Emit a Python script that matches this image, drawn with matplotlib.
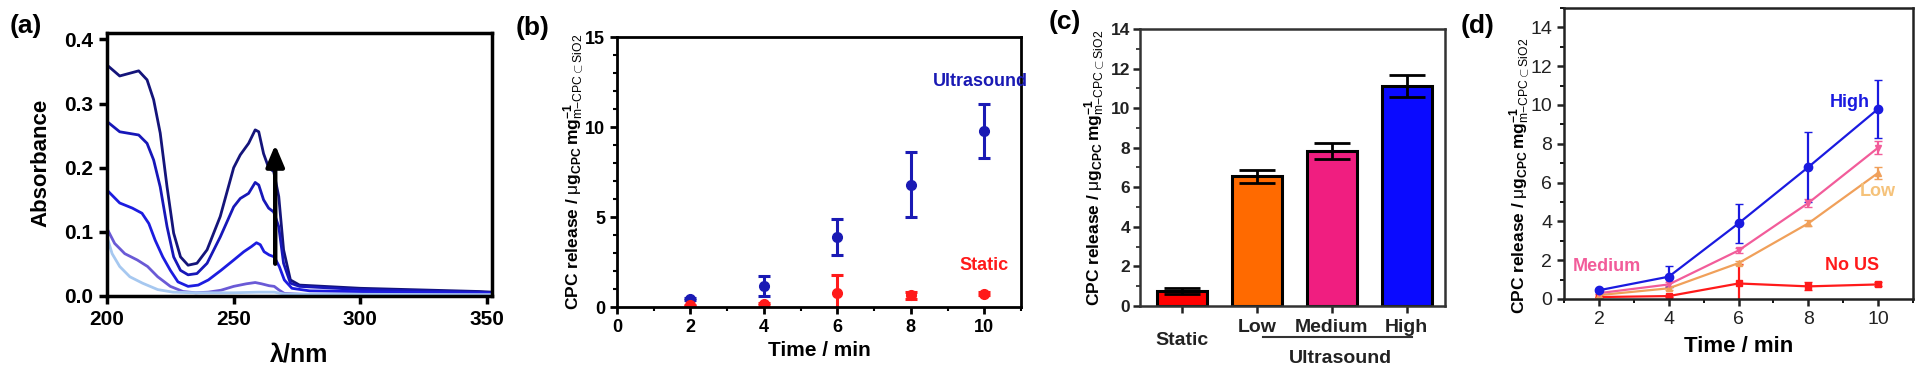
import numpy as np
import matplotlib
matplotlib.use("Agg")
import matplotlib.pyplot as plt
from matplotlib.ticker import MultipleLocator
import matplotlib.transforms as mtransforms

plt.rcParams['font.family'] = ['Liberation Sans', 'DejaVu Sans']
plt.rcParams['mathtext.fontset'] = 'custom'
plt.rcParams['mathtext.rm'] = 'Liberation Sans'
plt.rcParams['mathtext.bf'] = 'Liberation Sans:bold'
plt.rcParams['mathtext.it'] = 'Liberation Sans:italic'

# ---- (a) UV-vis spectra ----
wl1 = [200, 205, 212.5, 215.8, 218.4, 221, 223.7, 226.3, 229, 232, 235.5, 239.5, 244.7, 250,
       252.6, 255.9, 258.5, 259.9, 261.8, 263.8, 265.8, 267.8, 269.7, 272.4, 276, 300, 347, 352]
abs1 = [0.36, 0.343, 0.351, 0.337, 0.306, 0.254, 0.17, 0.098, 0.061, 0.048, 0.051, 0.072, 0.124, 0.20,
        0.22, 0.238, 0.259, 0.256, 0.222, 0.20, 0.194, 0.155, 0.072, 0.025, 0.017, 0.012, 0.007, 0.006]
abs2 = [0.272, 0.256, 0.251, 0.238, 0.212, 0.17, 0.108, 0.061, 0.04, 0.033, 0.035, 0.051, 0.092, 0.139,
        0.152, 0.16, 0.177, 0.173, 0.15, 0.137, 0.131, 0.108, 0.051, 0.02, 0.015, 0.01, 0.006, 0.005]
wl3 = [200, 205, 210, 213.8, 216.5, 219, 222, 225, 228, 232, 236, 240, 245, 250, 254, 257, 259,
       260.5, 262, 264, 266, 268, 270, 273, 280, 352]
abs3 = [0.165, 0.145, 0.137, 0.129, 0.113, 0.087, 0.061, 0.04, 0.022, 0.015, 0.017, 0.025, 0.04, 0.056,
        0.069, 0.077, 0.083, 0.08, 0.069, 0.064, 0.061, 0.046, 0.025, 0.012, 0.008, 0.004]
wl4 = [200, 203, 207, 212, 216, 220, 225, 230, 235, 240, 245, 250, 255, 258.5, 261, 264, 266, 268,
       270, 280, 352]
abs4 = [0.105, 0.082, 0.066, 0.056, 0.046, 0.03, 0.015, 0.007, 0.005, 0.006, 0.009, 0.015, 0.019, 0.021,
        0.019, 0.016, 0.015, 0.009, 0.004, 0.002, 0.002]
wl5 = [200, 202, 205, 209, 214, 220, 226, 235, 250, 260, 266, 270, 352]
abs5 = [0.092, 0.066, 0.046, 0.03, 0.02, 0.01, 0.006, 0.005, 0.005, 0.006, 0.006, 0.003, 0.002]

# ---- (b) / (d) release kinetics ----
time_min = [2, 4, 6, 8, 10]
high = [0.45, 1.15, 3.9, 6.8, 9.8]
high_err = [0.05, 0.55, 1.0, 1.8, 1.5]
medium = [0.3, 0.75, 2.5, 4.95, 7.8]
medium_err = [0.05, 0.1, 0.15, 0.2, 0.35]
low = [0.2, 0.55, 1.85, 3.9, 6.5]
low_err = [0.05, 0.08, 0.12, 0.15, 0.3]
static = [0.1, 0.15, 0.8, 0.65, 0.75]
static_err = [0.02, 0.05, 1.0, 0.2, 0.1]

# ---- (c) release at 10 min ----
conditions = ['Static', 'Low', 'Medium', 'High']
release_10 = [0.75, 6.55, 7.85, 11.1]
release_10_err = [0.15, 0.32, 0.4, 0.55]

ylab = (r'CPC release / $\mathrm{\mu}\mathbf{g}_{\mathbf{CPC}}\,\mathbf{mg}^{\mathbf{-1}}'
        r'_{\mathrm{m{-}CPC}\subset\mathrm{SiO2}}$')

fig = plt.figure(figsize=(19.25, 3.75), dpi=100)
ax_a = fig.add_axes([0.0556, 0.2107, 0.2, 0.7013])
ax_b = fig.add_axes([0.3205, 0.1813, 0.2099, 0.72])
ax_c = fig.add_axes([0.5922, 0.184, 0.1584, 0.7387])
ax_d = fig.add_axes([0.8125, 0.2027, 0.1813, 0.776])

# (a)
spec_colors = ['#14147a', '#1717b8', '#1c1ce0', '#6a5ad6', '#a6c8f0']
ax_a.plot(wl1, abs1, color=spec_colors[0], lw=2)
ax_a.plot(wl1, abs2, color=spec_colors[1], lw=2)
ax_a.plot(wl3, abs3, color=spec_colors[2], lw=2)
ax_a.plot(wl4, abs4, color=spec_colors[3], lw=2)
ax_a.plot(wl5, abs5, color=spec_colors[4], lw=2)
ax_a.annotate('', xy=(266.4, 0.24), xytext=(266.4, 0.046),
              arrowprops=dict(arrowstyle='-|>,head_width=0.55,head_length=1.3', color='black', lw=3.2))
ax_a.set_xlim(200, 352)
ax_a.set_ylim(0, 0.41)
ax_a.set_xticks([200, 250, 300, 350])
ax_a.set_yticks([0, 0.1, 0.2, 0.3, 0.4])
ax_a.yaxis.set_major_formatter(plt.FormatStrFormatter('%.1f'))
ax_a.set_xlabel('λ/nm', fontsize=18, fontweight='bold', labelpad=10)
ax_a.set_ylabel('Absorbance', fontsize=16, fontweight='bold')
ax_a.yaxis.set_label_coords(-0.145, 0.506)
for s in ax_a.spines.values():
    s.set_linewidth(2.5)
ax_a.tick_params(width=2.5, length=6, labelsize=15, pad=4)
for t in ax_a.get_xticklabels() + ax_a.get_yticklabels():
    t.set_fontweight('bold')

# (b)
ax_b.errorbar(time_min, high, yerr=high_err, fmt='o', color='#1a1ab4', ms=7, lw=2.2,
              capsize=4, capthick=2.2)
ax_b.errorbar(time_min, static, yerr=static_err, fmt='o', color='#ff1a1a', ms=7, lw=2.2,
              capsize=4, capthick=2.2)
ax_b.set_xlim(0, 11)
ax_b.set_ylim(0, 15)
ax_b.set_xticks([0, 2, 4, 6, 8, 10])
ax_b.set_yticks([0, 5, 10, 15])
ax_b.xaxis.set_minor_locator(MultipleLocator(1))
ax_b.yaxis.set_minor_locator(MultipleLocator(1))
ax_b.text(9.9, 12.3, 'Ultrasound', color='#1a1ab4', fontsize=13, fontweight='bold', ha='center')
ax_b.text(10, 2.05, 'Static', color='#ff1a1a', fontsize=13, fontweight='bold', ha='center')
ax_b.set_xlabel('Time / min', fontsize=15, fontweight='bold', labelpad=4)
ax_b.set_ylabel(ylab, fontsize=12.5, fontweight='bold')
ax_b.yaxis.set_label_coords(-0.075, 0.5)
for s in ax_b.spines.values():
    s.set_linewidth(2)
ax_b.tick_params(which='major', width=2, length=5, labelsize=13)
ax_b.tick_params(which='minor', width=1.5, length=3)
for t in ax_b.get_xticklabels() + ax_b.get_yticklabels():
    t.set_fontweight('bold')

# (c)
pos = np.arange(len(conditions))
bar_colors = ['#ff0000', '#ff6a00', '#f01e80', '#0a0aff']
ax_c.bar(pos, release_10, width=0.67, color=bar_colors, edgecolor='black', lw=2.2)
ax_c.errorbar(pos, release_10, yerr=release_10_err, fmt='none', ecolor='black', lw=2,
              capsize=13, capthick=2)
ax_c.set_xlim(-0.56, 3.51)
ax_c.set_ylim(0, 14)
ax_c.set_xticks(pos)
ax_c.set_xticklabels([''] + conditions[1:])
ax_c.set_yticks(np.arange(0, 15, 2))
ax_c.yaxis.set_minor_locator(MultipleLocator(1))
trans_c = mtransforms.blended_transform_factory(ax_c.transData, ax_c.transAxes)
ax_c.text(pos[0], -0.125, conditions[0], transform=trans_c, ha='center', va='center',
          fontsize=14, fontweight='bold', color='#222222')
ax_c.plot([pos[1] + 0.08, pos[3] + 0.07], [-0.112, -0.112], transform=trans_c, color='#333333',
          lw=1.5, clip_on=False)
ax_c.text((pos[1] + pos[3]) / 2 + 0.12, -0.19, 'Ultrasound', transform=trans_c, ha='center',
          va='center', fontsize=14, fontweight='bold', color='#222222')
ax_c.set_ylabel(ylab, fontsize=12.5, fontweight='bold')
ax_c.yaxis.set_label_coords(-0.105, 0.498)
for s in ax_c.spines.values():
    s.set_linewidth(1.8)
    s.set_color('#333333')
ax_c.tick_params(which='major', width=1.8, length=5, labelsize=12.5, colors='#222222', pad=2)
ax_c.tick_params(which='minor', width=1.3, length=3, colors='#333333')
ax_c.tick_params(axis='x', labelsize=14, pad=4)
for t in ax_c.get_xticklabels() + ax_c.get_yticklabels():
    t.set_fontweight('bold')

# (d)
ax_d.errorbar(time_min, static, yerr=static_err, fmt='-s', color='#ff1a1a', ms=5, lw=1.6,
              capsize=3)
ax_d.errorbar(time_min, low, yerr=low_err, fmt='-^', color='#f0a05a', ms=5, lw=1.6, capsize=3)
ax_d.errorbar(time_min, medium, yerr=medium_err, fmt='-v', color='#f25c9a', ms=5, lw=1.6,
              capsize=3)
ax_d.errorbar(time_min, high, yerr=high_err, fmt='-o', color='#1a1ae0', ms=6, lw=1.6, capsize=3)
ax_d.set_xlim(1, 11)
ax_d.set_ylim(0, 15)
ax_d.set_xticks([2, 4, 6, 8, 10])
ax_d.set_yticks(np.arange(0, 15, 2))
ax_d.xaxis.set_minor_locator(MultipleLocator(1))
ax_d.yaxis.set_minor_locator(MultipleLocator(1))
ax_d.text(9.2, 9.9, 'High', color='#1a1ae0', fontsize=13, fontweight='bold', ha='center')
ax_d.text(10, 5.3, 'Low', color='#f5c27a', fontsize=13, fontweight='bold', ha='center')
ax_d.text(2.23, 1.45, 'Medium', color='#f25c9a', fontsize=13, fontweight='bold', ha='center')
ax_d.text(9.25, 1.5, 'No US', color='#ff1a1a', fontsize=13, fontweight='bold', ha='center')
ax_d.set_xlabel('Time / min', fontsize=16, fontweight='bold', labelpad=6)
ax_d.set_ylabel(ylab, fontsize=12.5, fontweight='bold')
ax_d.yaxis.set_label_coords(-0.09, 0.423)
for s in ax_d.spines.values():
    s.set_linewidth(1.8)
    s.set_color('#222222')
ax_d.tick_params(which='major', width=1.8, length=5, labelsize=14, colors='#222222')
ax_d.tick_params(which='minor', width=1.3, length=3)

# panel letters
for lab, x, y in [('(a)', 0.005, 0.93), ('(b)', 0.268, 0.925), ('(c)', 0.545, 0.94),
                  ('(d)', 0.759, 0.93)]:
    fig.text(x, y, lab, fontsize=19, fontweight='bold', va='center')

fig.savefig('out.png', dpi=100)
